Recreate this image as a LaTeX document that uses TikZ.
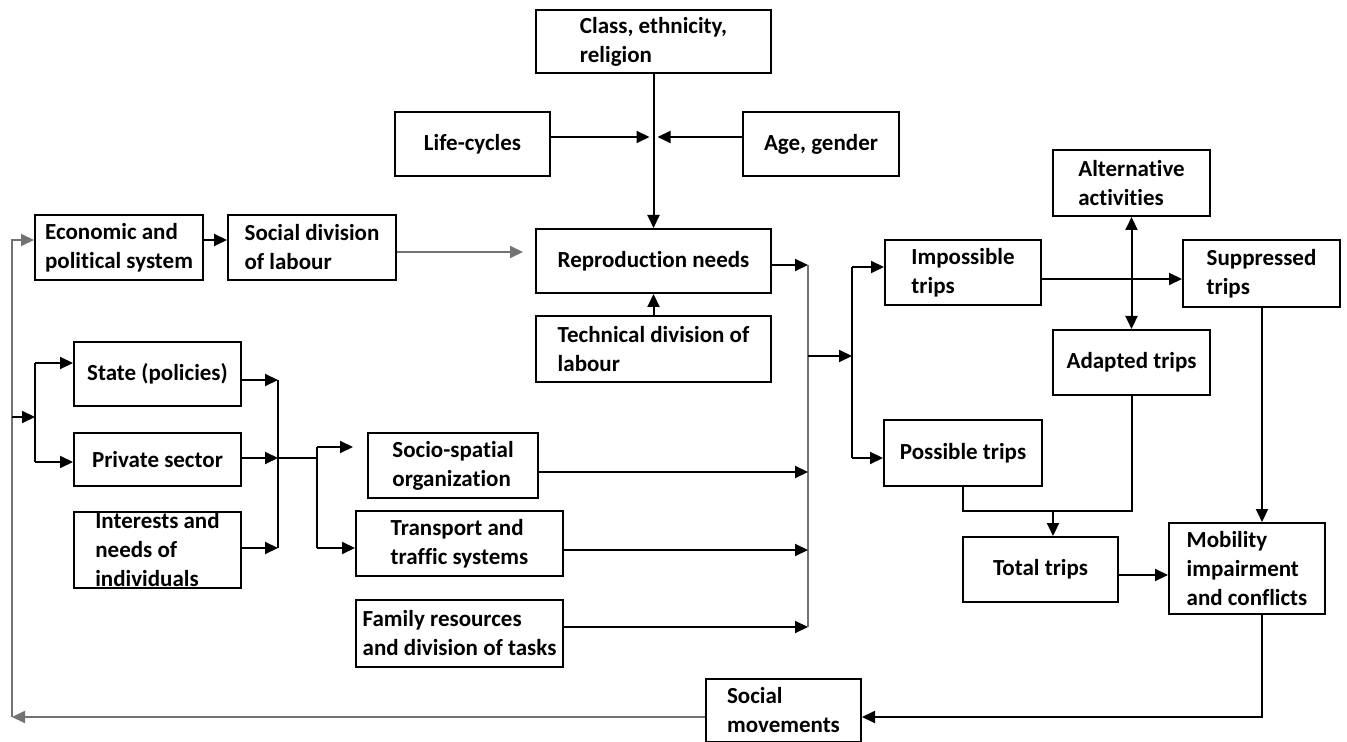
\documentclass[tikz,border=0pt]{standalone}
\usepackage{fontspec}
\setmainfont{Carlito}[RawFeature={-liga}]
\usetikzlibrary{arrows.meta}
\tikzset{
  box/.style={draw, line width=1pt, inner sep=0pt, align=left,
    font=\bfseries\fontsize{11.5}{14.5}\selectfont},
  conn/.style={line width=1pt, draw=black},
  lite/.style={line width=1pt, draw=black!55},
  arr/.style={-{Triangle[length=6.5pt,width=6pt]}},
  darr/.style={{Triangle[length=6.5pt,width=6pt]}-{Triangle[length=6.5pt,width=6pt]}}
}
\begin{document}
\begin{tikzpicture}[x=0.5pt,y=-0.5pt]
\useasboundingbox (0,0) rectangle (1347,742);
% boxes
\node[box, minimum width=117.5pt, minimum height=31.5pt] (cls) at (653.5,41.5) {Class, ethnicity,\\religion};
\node[box, minimum width=77.5pt, minimum height=32pt] (life) at (472.5,144) {Life-cycles};
\node[box, minimum width=78pt, minimum height=32pt] (age) at (821,144) {Age, gender};
\node[box, minimum width=117.5pt, minimum height=32pt] (repro) at (653.5,261) {Reproduction needs};
\node[box, minimum width=117.5pt, minimum height=33pt] (tech) at (653.5,349) {Technical division of\\labour};
\node[box, minimum width=84pt, minimum height=32.5pt] (econ) at (119,247.5) {Economic and\\political system};
\node[box, minimum width=84pt, minimum height=32.5pt] (sdiv) at (312,247.5) {Social division\\of labour\hspace{14pt}};
\node[box, minimum width=83.5pt, minimum height=32pt] (state) at (157.5,374) {State (policies)};
\node[box, minimum width=83.5pt, minimum height=26.5pt] (priv) at (157.5,459.5) {Private sector};
\node[box, minimum width=83.5pt, minimum height=38pt] (inter) at (157.5,550) {Interests and\hspace{8pt}\\needs of\\individuals};
\node[box, minimum width=85pt, minimum height=32.5pt] (socio) at (453,465.5) {Socio-spatial\\organization};
\node[box, minimum width=103.5pt, minimum height=32.5pt] (trans) at (459.5,543.5) {Transport and\\traffic systems};
\node[box, minimum width=103.5pt, minimum height=33.5pt] (fam) at (459.5,633.5) {Family resources\\and division of tasks};
\node[box, minimum width=77.5pt, minimum height=31.5pt] (socmov) at (783.5,710) {Social\\movements};
\node[box, minimum width=78pt, minimum height=32.5pt] (imp) at (963,272.5) {Impossible\hspace{10pt}\\trips};
\node[box, minimum width=79pt, minimum height=33pt] (poss) at (963,453) {Possible trips};
\node[box, minimum width=78.5pt, minimum height=33pt] (alt) at (1131.5,183) {Alternative\\activities};
\node[box, minimum width=78.5pt, minimum height=33.5pt] (sup) at (1261.5,273.5) {Suppressed\\trips};
\node[box, minimum width=78.5pt, minimum height=32.5pt] (adapt) at (1131.5,362.5) {Adapted trips};
\node[box, minimum width=77.5pt, minimum height=32.5pt] (total) at (1040.5,569.5) {Total trips};
\node[box, minimum width=78pt, minimum height=45.5pt] (mob) at (1247,568.5) {Mobility\\impairment\\and conflicts};
% junction coordinates
\coordinate (hub) at (653.5,137);
\coordinate (sdivend) at (523,252);
\coordinate (colTop) at (808,265);
\coordinate (colMid) at (808,356);
\coordinate (colBot) at (808,627);
\coordinate (spl) at (852,356);
\coordinate (splTop) at (852,267);
\coordinate (splBot) at (852,458);
\coordinate (joinL) at (963,511);
\coordinate (joinR) at (1131.5,511);
\coordinate (joinM) at (1053,511);
\coordinate (supX) at (1262,307);
\coordinate (mobX) at (1262,614);
\coordinate (botR) at (1262,717);
\coordinate (botL) at (12,717);
\coordinate (leftE) at (12,240);
\coordinate (leftS) at (12,417);
\coordinate (fork) at (35,417);
\coordinate (forkT) at (35,363);
\coordinate (forkB) at (35,462);
\coordinate (merge) at (278,458);
\coordinate (mergeT) at (278,380);
\coordinate (mergeB) at (278,548);
\coordinate (split2) at (317,458);
\coordinate (split2T) at (317,447);
\coordinate (split2B) at (317,548);
\coordinate (socioIn) at (353,447);
% connectors
\draw[conn, arr] (cls.south) -- (repro.north);
\draw[conn, arr] (life.east |- hub) -- ([xshift=-2pt]hub);
\draw[conn, arr] (age.west |- hub) -- ([xshift=2pt]hub);
\draw[conn, arr] (tech.north) -- (repro.south);
\draw[conn, arr] (econ.east |- 0,240) -- (sdiv.west |- 0,240);
\draw[lite, arr] (sdiv.east |- sdivend) -- (sdivend);
\draw[conn, arr] (repro.east |- colTop) -- (colTop);
\draw[lite] (colTop) -- (colBot);
\draw[conn, arr] (socio.east |- 0,472) -- (808,472);
\draw[conn, arr] (trans.east |- 0,550) -- (808,550);
\draw[conn, arr] (fam.east |- colBot) -- (colBot);
\draw[conn, arr] (colMid) -- (spl);
\draw[conn] (splTop) -- (splBot);
\draw[conn, arr] (splTop) -- (imp.west |- splTop);
\draw[conn, arr] (splBot) -- (poss.west |- splBot);
\draw[conn, arr] (imp.east |- 0,279) -- (sup.west |- 0,279);
\draw[conn, darr] (alt.south) -- (adapt.north);
\draw[conn, arr] (supX) -- (mob.north -| supX);
\draw[conn] (poss.south) -- (joinL) -- (joinR) -- (adapt.south);
\draw[conn, arr] (joinM) -- (total.north -| joinM);
\draw[conn, arr] (total.east |- 0,575) -- (mob.west |- 0,575);
\draw[conn, arr] (mobX) -- (botR) -- (socmov.east |- botR);
\draw[lite, arr] (socmov.west |- botL) -- (botL);
\draw[lite, arr] (botL) -- (leftE) -- (econ.west |- leftE);
\draw[conn, arr] (leftS) -- (fork);
\draw[conn] (forkT) -- (forkB);
\draw[conn, arr] (forkT) -- (state.west |- forkT);
\draw[conn, arr] (forkB) -- (priv.west |- forkB);
\draw[conn, arr] (state.east |- mergeT) -- (mergeT);
\draw[conn, arr] (priv.east |- merge) -- (merge);
\draw[conn, arr] (inter.east |- mergeB) -- (mergeB);
\draw[conn] (mergeT) -- (mergeB);
\draw[conn] (merge) -- (split2);
\draw[conn] (split2T) -- (split2B);
\draw[conn, arr] (split2T) -- (socioIn);
\draw[conn, arr] (split2B) -- (trans.west |- split2B);
\end{tikzpicture}
\end{document}
